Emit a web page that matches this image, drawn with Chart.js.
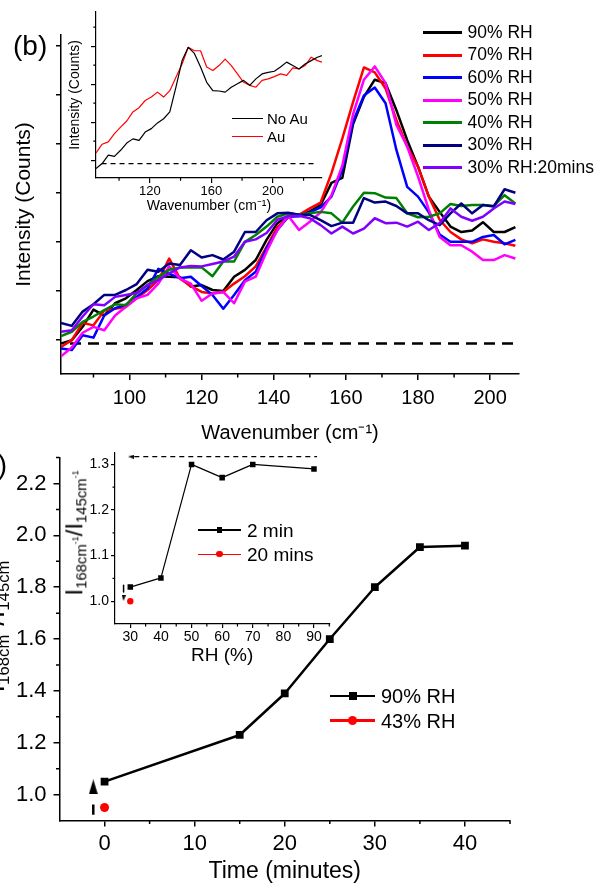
<!DOCTYPE html>
<html>
<head>
<meta charset="utf-8">
<script src="https://cdn.jsdelivr.net/npm/chart.js@4.4.1/dist/chart.umd.min.js"></script>
<style>
  body { margin: 0; background: #fff; font-family: 'Liberation Sans', Arial, sans-serif; }
  #page { position: relative; width: 600px; height: 883px; overflow: hidden; background: #fff; }
  canvas { position: absolute; left: 0; top: 0; }
  .txt { position: absolute; white-space: nowrap; color: #000; }
  .rot { position: absolute; white-space: nowrap; line-height: 1; transform: translate(-50%, -50%) rotate(-90deg); }
  .sb { font-size: 0.62em; vertical-align: -0.3em; }
  .sp { font-size: 0.6em; vertical-align: 0.9em; }
  .lg { position: absolute; }
</style>
</head>
<body>
<div id="page">
  <canvas id="spectra" width="600" height="883"></canvas>
  <canvas id="insetAu" width="600" height="883"></canvas>
  <canvas id="ratioTime" width="600" height="883"></canvas>
  <canvas id="ratioRH" width="600" height="883"></canvas>
</div>
<script>
// ---- panel (b): Raman spectra at different humidity ----
var wavenumber = [81,84,87,90,93,96,99,102,105,108,111,114,117,120,123,126,129,132,135,138,141,144,147,150,153,156,159,162,165,168,171,174,177,180,183,186,189,192,195,198,201,204,207];
var rh90 = [-0.07,0.0,0.27,0.62,0.5,0.75,0.85,1.02,1.2,1.3,1.29,1.28,1.09,1.12,1.02,1.0,1.29,1.43,1.63,2.04,2.38,2.53,2.55,2.62,2.75,3.2,3.3,4.4,4.95,5.3,5.23,4.68,4.07,3.53,2.92,2.61,2.31,2.2,2.23,2.4,2.2,2.2,2.3];
var rh70 = [-0.14,0.0,0.35,0.3,0.6,0.64,0.68,0.85,1.02,1.22,1.66,1.25,1.1,0.98,0.95,0.98,1.15,1.3,1.5,1.9,2.3,2.5,2.55,2.68,2.8,3.4,4.1,4.85,5.55,5.45,5.12,4.48,3.94,3.53,2.92,2.45,2.2,2.05,1.97,2.05,2.0,1.97,1.92];
var rh60 = [-0.17,-0.2,0.1,0.05,0.5,0.65,0.72,0.88,1.05,1.45,1.35,1.26,1.29,1.1,0.92,0.64,0.92,1.22,1.39,1.87,2.24,2.51,2.52,2.6,2.7,2.92,3.46,4.45,4.98,5.14,4.82,3.87,3.12,2.92,2.6,2.15,2.0,2.0,2.0,2.1,2.14,1.95,2.04];
var rh50 = [-0.33,-0.15,0.15,0.27,0.2,0.5,0.68,0.85,0.92,1.15,1.5,1.25,1.15,0.8,0.95,0.98,0.75,1.19,1.29,1.8,2.24,2.53,2.24,2.41,2.6,2.95,3.55,4.6,5.3,5.57,5.23,4.38,3.94,3.33,2.65,2.1,1.93,1.93,1.8,1.63,1.63,1.73,1.66];
var rh40 = [0.08,0.17,0.37,0.48,0.61,0.73,0.71,0.95,1.12,1.29,1.43,1.48,1.48,1.48,1.3,1.6,1.6,2.0,2.14,2.31,2.51,2.58,2.55,2.58,2.61,2.58,2.39,2.72,3.0,2.99,2.9,2.89,2.58,2.5,2.51,2.58,2.77,2.73,2.75,2.75,2.73,2.95,2.78];
var rh30 = [0.35,0.29,0.58,0.73,0.92,0.92,1.02,1.14,1.43,1.39,1.56,1.53,1.83,1.68,1.73,1.64,1.8,2.2,2.2,2.44,2.58,2.59,2.55,2.55,2.44,2.32,2.39,2.39,2.89,2.8,2.82,2.73,2.58,2.58,2.44,2.34,2.58,2.78,2.58,2.75,2.72,3.07,3.0];
var rh30After20 = [0.17,0.2,0.48,0.73,0.71,0.88,0.92,0.96,1.12,1.22,1.36,1.48,1.51,1.5,1.55,1.6,1.7,2.0,2.05,2.18,2.45,2.52,2.53,2.48,2.34,2.17,2.31,2.17,2.27,2.48,2.38,2.39,2.31,2.41,2.24,2.38,2.68,2.51,2.43,2.51,2.68,2.82,2.77];
var spectraLabels = ['90% RH', '70% RH', '60% RH', '50% RH', '40% RH', '30% RH', '30% RH:20mins'];
var spectraColors = ['#000000', '#ff0000', '#0000ff', '#ff00ff', '#008000', '#000080', '#8000ff'];
var spectraValues = [rh90, rh70, rh60, rh50, rh40, rh30, rh30After20];
var spectraZero = [[83.5, -0.07], [208, -0.07]];

// inset of (b): with and without Au
var insetWavenumber = [85,89,93,97,101,105,109,113,117,121,125,129,133,137,141,145,149,153,157,161,165,169,173,177,181,185,189,193,197,201,205,209,213,217,221,225,229,232];
var noAu = [-0.22,-0.09,0.13,0.1,0.26,0.45,0.56,0.52,0.74,0.83,0.98,1.09,1.27,1.92,2.62,2.97,2.81,2.45,2.05,1.83,1.82,1.79,1.92,2.01,2.1,1.97,2.14,2.27,2.31,2.34,2.45,2.58,2.49,2.4,2.53,2.62,2.71,2.75];
var au = [0.19,0.42,0.48,0.7,0.87,1.03,1.27,1.38,1.57,1.66,1.79,1.66,1.83,2.18,2.53,2.97,2.88,2.88,2.45,2.36,2.49,2.66,2.49,2.27,2.05,1.97,1.92,2.1,2.14,2.2,2.27,2.23,2.43,2.4,2.49,2.71,2.62,2.58];
var insetZero = [[88.6, -0.09], [227, -0.09]];

// ---- panel (c): peak ratio vs time ----
var time90 = [0, 15, 20, 25, 30, 35, 40];
var ratio90 = [1.05, 1.23, 1.39, 1.60, 1.80, 1.955, 1.96];
var time43 = [0];
var ratio43 = [0.95];
var timeArrowBar = [[-1.25, 0.922], [-1.25, 0.962]];
var timeArrowHead = [-1.25, 1.03];

// inset of (c): ratio vs RH
var rhPercent = [30, 40, 50, 60, 70, 90];
var ratio2min = [1.031, 1.051, 1.30, 1.271, 1.30, 1.29];
var rh20min = [30];
var ratio20min = [1.00];
var rhTopLine = [[31.3, 1.317], [91, 1.317]];
var rhTopHead = [30.2, 1.317];
var rhSmallBar = [[27.8, 1.035], [27.8, 1.02]];
var rhSmallHead = [27.8, 1.007];

Chart.defaults.font.family = "'Liberation Sans', Arial, sans-serif";
Chart.defaults.color = '#000';

// pequenos traços de escala secundária
var minorTicks = {
    id: 'minorTicks',
    afterDraw: function(chart, args, opts) {
        var ctx = chart.ctx;
        var area = chart.chartArea;
        ctx.save();
        ctx.strokeStyle = '#000';
        ctx.lineWidth = opts.width || 1.3;
        ctx.beginPath();
        (opts.x || []).forEach(function(v) {
            var px = chart.scales.x.getPixelForValue(v);
            ctx.moveTo(px, area.bottom);
            ctx.lineTo(px, area.bottom + opts.len);
        });
        (opts.y || []).forEach(function(v) {
            var py = chart.scales.y.getPixelForValue(v);
            ctx.moveTo(area.left, py);
            ctx.lineTo(area.left - opts.len, py);
        });
        ctx.stroke();
        ctx.restore();
    }
};

function arrowHead(w, h, dir) {
    var c = document.createElement('canvas');
    c.width = w; c.height = h;
    var g = c.getContext('2d');
    g.fillStyle = '#000';
    g.beginPath();
    if (dir === 'up') { g.moveTo(w / 2, 0); g.lineTo(w, h); g.lineTo(0, h); }
    else if (dir === 'down') { g.moveTo(0, 0); g.lineTo(w, 0); g.lineTo(w / 2, h); }
    else { g.moveTo(0, h / 2); g.lineTo(w, 0); g.lineTo(w, h); }
    g.closePath();
    g.fill();
    return c;
}

function pts(xs, ys) {
    return xs.map(function(x, i) { return { x: x, y: ys[i] }; });
}
function pairPts(arr) {
    return arr.map(function(p) { return { x: p[0], y: p[1] }; });
}

function axis(opts) {
    var s = {
        type: 'linear',
        min: opts.min,
        max: opts.max,
        afterBuildTicks: function(scale) {
            scale.ticks = opts.ticks.map(function(v) { return { value: v }; });
        },
        grid: { drawOnChartArea: false, drawTicks: true, tickLength: opts.tickLength, tickWidth: opts.lw, tickColor: '#000', color: '#000', lineWidth: opts.lw },
        border: { display: true, color: '#000', width: opts.lw },
        ticks: {
            display: opts.labels !== false,
            autoSkip: false,
            maxRotation: 0,
            padding: opts.padding || 0,
            font: { size: opts.fontSize || 12 },
            callback: function(v) { return opts.digits ? v.toFixed(opts.digits) : String(v); }
        },
        title: opts.title ? { display: true, text: opts.title, padding: 0, font: { size: opts.titleSize, lineHeight: opts.titleLH || 1.2 } } : { display: false }
    };
    if (opts.size !== undefined) {
        s.afterFit = function(scale) {
            if (scale.isHorizontal()) scale.height = opts.size; else scale.width = opts.size;
        };
    }
    return s;
}

function baseOptions(padding, scales, minor) {
    return {
        animation: false,
        responsive: false,
        events: [],
        layout: { padding: padding },
        elements: { line: { tension: 0, borderJoinStyle: 'round' } },
        plugins: { legend: { display: false }, tooltip: { enabled: false }, minorTicks: minor },
        scales: scales
    };
}

// ---------- (b) main ----------
var spectraSets = spectraValues.map(function(vals, i) {
    return {
        label: spectraLabels[i],
        data: pts(wavenumber, vals),
        borderColor: spectraColors[i],
        borderWidth: 2.5,
        pointRadius: 0,
        order: 10 - i
    };
});
spectraSets.push({ label: 'zero', data: pairPts(spectraZero), borderColor: '#000', borderWidth: 2.5, borderDash: [11, 7], pointRadius: 0, order: 20 });

new Chart(document.getElementById('spectra'), {
    type: 'line',
    data: { datasets: spectraSets },
    options: baseOptions(
        { left: 12, top: 35, right: 81, bottom: 438 },
        {
            x: axis({ min: 81, max: 208, ticks: [100, 120, 140, 160, 180, 200], tickLength: 6, lw: 1.5, padding: 6, fontSize: 20, title: 'Wavenumber (cm\u207B\u00B9)', titleSize: 20, size: 71 }),
            y: axis({ min: -0.69, max: 6.21, ticks: [0, 1, 2, 3, 4, 5, 6], tickLength: 5, lw: 1.5, labels: false, title: 'Intensity (Counts)', titleSize: 21, size: 49 })
        },
        { x: [90, 110, 130, 150, 170, 190], len: 3.5, width: 1.5 }
    ),
    plugins: [minorTicks]
});

// ---------- (b) inset ----------
new Chart(document.getElementById('insetAu'), {
    type: 'line',
    data: {
        datasets: [
            { label: 'No Au', data: pts(insetWavenumber, noAu), borderColor: '#000', borderWidth: 1.2, pointRadius: 0 },
            { label: 'Au', data: pts(insetWavenumber, au), borderColor: '#ff0000', borderWidth: 1.2, pointRadius: 0 },
            { label: 'zero', data: pairPts(insetZero), borderColor: '#000', borderWidth: 1.2, borderDash: [5, 4], pointRadius: 0 }
        ]
    },
    options: baseOptions(
        { left: 66.6, top: 12, right: 278, bottom: 668.6 },
        {
            x: axis({ min: 85, max: 232, ticks: [120, 160, 200], tickLength: 5, lw: 1.2, padding: 1, fontSize: 13, title: 'Wavenumber (cm\u207B\u00B9)', titleSize: 14, size: 36.4 }),
            y: axis({ min: -0.47, max: 3.9, ticks: [0, 1, 2, 3], tickLength: 5, lw: 1.2, labels: false, title: 'Intensity (Counts)', titleSize: 14, size: 29.4 })
        },
        { x: [100, 140, 180, 220], y: [0.5, 1.5, 2.5, 3.5], len: 2.7, width: 1.2 }
    ),
    plugins: [minorTicks]
});

// ---------- (c) main ----------
new Chart(document.getElementById('ratioTime'), {
    type: 'line',
    data: {
        datasets: [
            { label: '90% RH', data: pts(time90, ratio90), borderColor: '#000', backgroundColor: '#000', borderWidth: 2.5, pointStyle: 'rect', pointRadius: 5.5, pointBorderWidth: 0 },
            { label: '43% RH', data: pts(time43, ratio43), borderColor: '#ff0000', backgroundColor: '#ff0000', borderWidth: 2.5, pointStyle: 'circle', pointRadius: 4.5, pointBorderWidth: 0 },
            { label: 'bar', data: pairPts(timeArrowBar), borderColor: '#000', borderWidth: 2.5, pointRadius: 0 },
            { label: 'head', data: [{ x: timeArrowHead[0], y: timeArrowHead[1] }], showLine: false, pointStyle: arrowHead(9, 15, 'up'), pointRadius: 5 }
        ]
    },
    options: baseOptions(
        { left: 0, top: 457.6, right: 90, bottom: 0 },
        {
            x: axis({ min: -5, max: 45, ticks: [0, 10, 20, 30, 40], tickLength: 6, lw: 1.5, padding: 4, fontSize: 22, title: 'Time (minutes)', titleSize: 23, titleLH: 1, size: 62.5 }),
            y: axis({ min: 0.9, max: 2.3, ticks: [1.0, 1.2, 1.4, 1.6, 1.8, 2.0, 2.2], tickLength: 6, lw: 1.5, padding: 7, fontSize: 22, digits: 1, size: 59.5 })
        },
        { x: [5, 15, 25, 35, 45], y: [1.1, 1.3, 1.5, 1.7, 1.9, 2.1, 2.3], len: 3.5, width: 1.5 }
    ),
    plugins: [minorTicks]
});

// ---------- (c) inset ----------
new Chart(document.getElementById('ratioRH'), {
    type: 'line',
    data: {
        datasets: [
            { label: '2 min', data: pts(rhPercent, ratio2min), borderColor: '#000', backgroundColor: '#000', borderWidth: 1.2, pointStyle: 'rect', pointRadius: 3.9, pointBorderWidth: 0 },
            { label: '20 mins', data: pts(rh20min, ratio20min), borderColor: '#ff0000', backgroundColor: '#ff0000', borderWidth: 1.2, pointStyle: 'circle', pointRadius: 3.2, pointBorderWidth: 0 },
            { label: 'top', data: pairPts(rhTopLine), borderColor: '#000', borderWidth: 1.1, borderDash: [5, 4], pointRadius: 0 },
            { label: 'topHead', data: [{ x: rhTopHead[0], y: rhTopHead[1] }], showLine: false, pointStyle: arrowHead(6, 4, 'left'), pointRadius: 3 },
            { label: 'bar', data: pairPts(rhSmallBar), borderColor: '#000', borderWidth: 1.5, pointRadius: 0 },
            { label: 'smallHead', data: [{ x: rhSmallHead[0], y: rhSmallHead[1] }], showLine: false, pointStyle: arrowHead(4, 6, 'down'), pointRadius: 3 }
        ]
    },
    options: baseOptions(
        { left: 80, top: 453, right: 270.7, bottom: 215.6 },
        {
            x: axis({ min: 25, max: 95, ticks: [30, 40, 50, 60, 70, 80, 90], tickLength: 4, lw: 1.2, padding: 1, fontSize: 14, title: 'RH (%)', titleSize: 19, size: 43.4 }),
            y: axis({ min: 0.95, max: 1.325, ticks: [1.0, 1.1, 1.2, 1.3], tickLength: 4, lw: 1.2, padding: 2, fontSize: 14, digits: 1, size: 35 })
        },
        { x: [35, 45, 55, 65, 75, 85, 95], y: [1.05, 1.15, 1.25], len: 2.5, width: 1.2 }
    ),
    plugins: [minorTicks]
});

// ---------- textos e legendas ----------
var page = document.getElementById('page');
function addText(html, left, top, size, cls) {
    var d = document.createElement('div');
    d.className = cls || 'txt';
    d.innerHTML = html;
    d.style.left = left + 'px';
    d.style.top = top + 'px';
    d.style.fontSize = size + 'px';
    if (!cls) d.style.lineHeight = size + 'px';
    page.appendChild(d);
    return d;
}
function addBox(left, top, w, h, color, round) {
    var d = document.createElement('div');
    d.className = 'lg';
    d.style.left = left + 'px';
    d.style.top = top + 'px';
    d.style.width = w + 'px';
    d.style.height = h + 'px';
    d.style.background = color;
    if (round) d.style.borderRadius = '50%';
    page.appendChild(d);
}
function legendRow(label, color, y, x0, x1, lw, marker, msize, textX, fontSize) {
    addBox(x0, y - lw / 2, x1 - x0, lw, color);
    if (marker) {
        var cx = (x0 + x1) / 2;
        addBox(cx - msize / 2, y - msize / 2, msize, msize, color, marker === 'circle');
    }
    addText(label, textX, y - fontSize / 2, fontSize);
}

addText('(b)', 13, 32, 28);
addText('(c)', -25.7, 451, 28);

spectraLabels.forEach(function(lab, i) {
    legendRow(lab, spectraColors[i], 32.5 + i * 22.5, 423, 462, 3, null, 0, 467.5, 17.5);
});
legendRow('No Au', '#000', 118.3, 232, 263, 1.2, null, 0, 267, 15);
legendRow('Au', '#ff0000', 136.7, 232, 263, 1.2, null, 0, 267, 15);

legendRow('90% RH', '#000', 696, 330, 375, 2.5, 'rect', 8, 381, 20);
legendRow('43% RH', '#ff0000', 720.7, 330, 375, 2.5, 'circle', 9, 381, 20);
legendRow('2 min', '#000', 530, 198, 241, 1.2, 'rect', 5.5, 247, 19);
legendRow('20 mins', '#ff0000', 554.3, 198, 241, 1.2, 'circle', 6.4, 247, 19);

var ratioLabel = 'I<span class="sb">168cm<span class="sp">-1</span></span>/I<span class="sb">145cm<span class="sp">-1</span></span>';
var lab1 = addText(ratioLabel, -3, 622, 27, 'rot');
var lab2 = addText(ratioLabel, 76, 533, 24, 'rot');
</script>
</body>
</html>
